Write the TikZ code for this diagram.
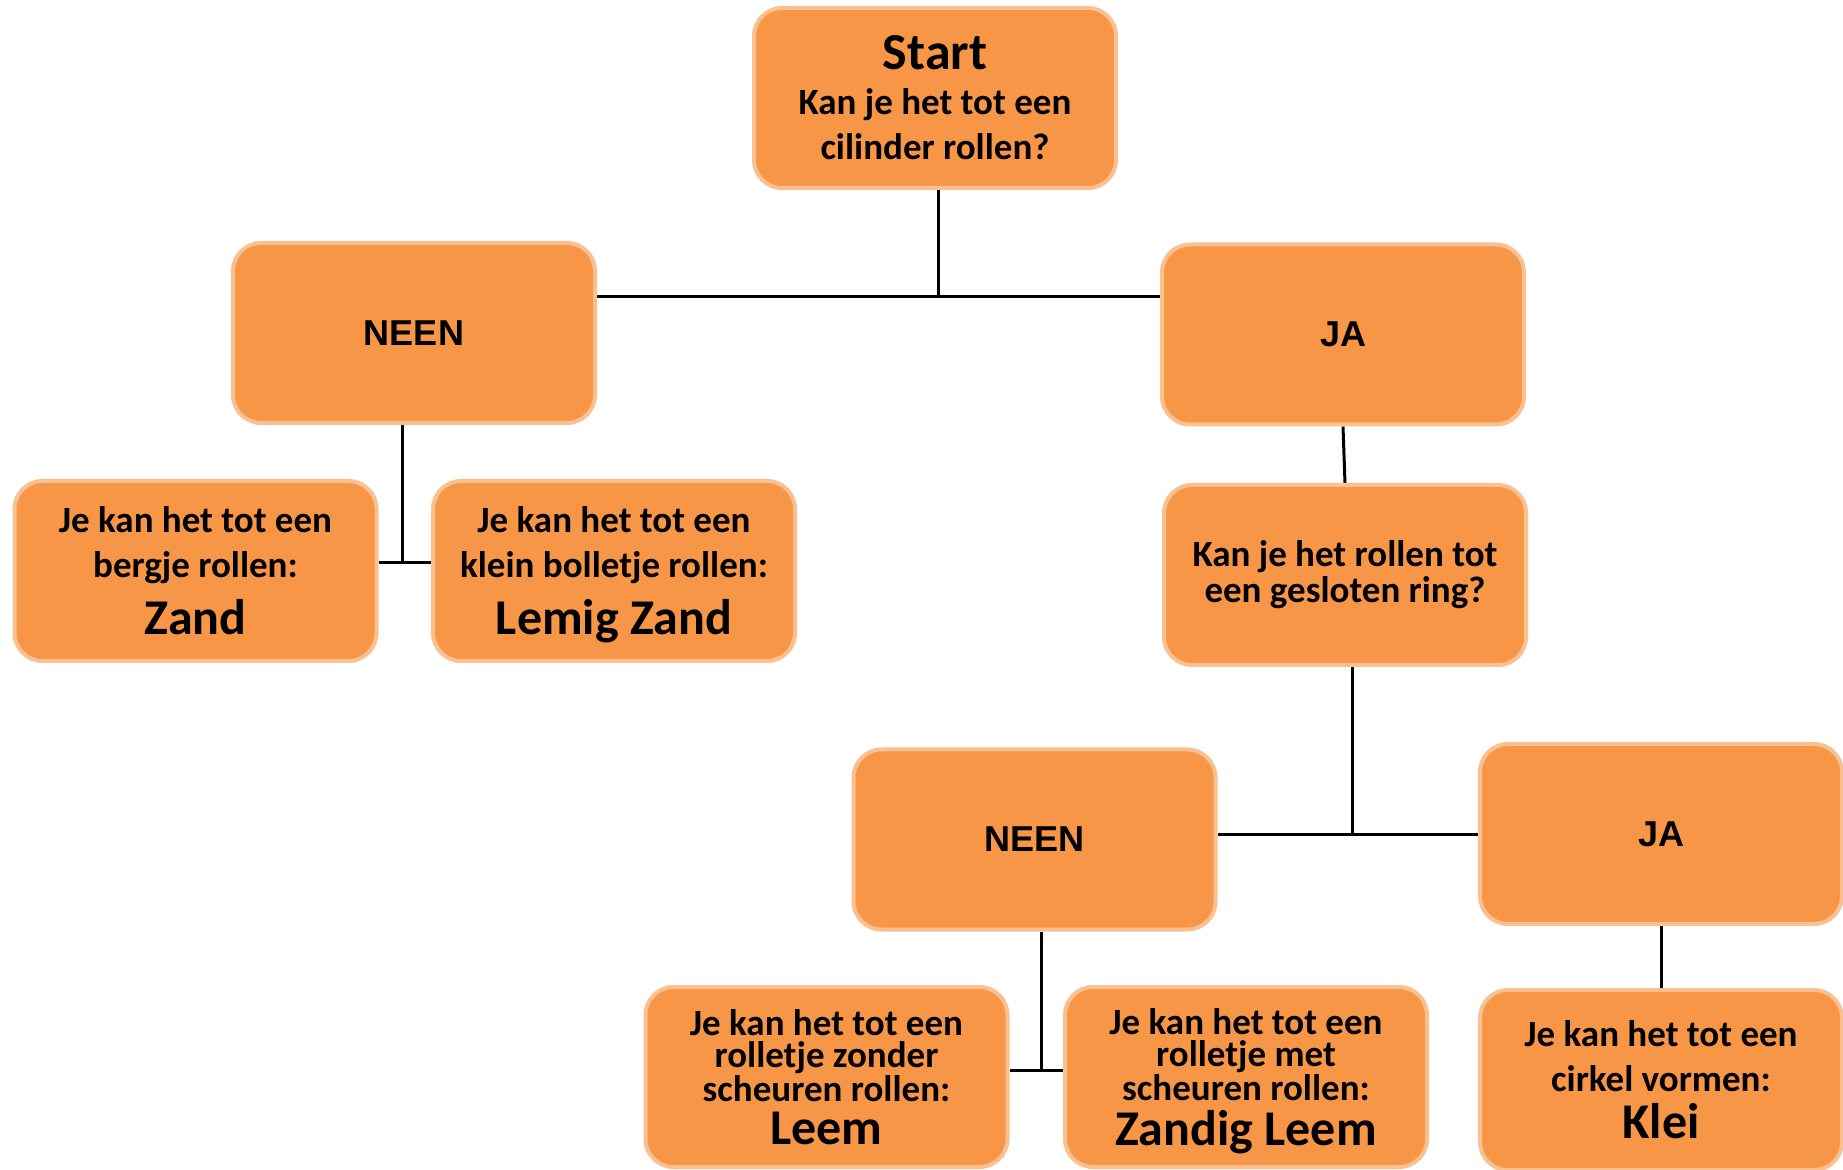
\documentclass[tikz,border=0pt]{standalone}
\usepackage{fontspec}
\setmainfont{Carlito}
\newfontfamily\arialfont{Liberation Sans}
\usetikzlibrary{positioning, calc, backgrounds}

\definecolor{boxfill}{HTML}{F79646}
\definecolor{boxedge}{HTML}{FAC090}

\begin{document}
\begin{tikzpicture}[
    x=0.5pt, y=-0.5pt,
    box/.style={draw=boxedge, line width=2pt, fill=boxfill, rounded corners=14pt,
        minimum width=181pt, minimum height=90pt, align=center, inner sep=2pt,
        font=\bfseries\fontsize{18.5}{22.5}\selectfont},
    answer/.style={box, font=\arialfont\bfseries\fontsize{18}{22}\selectfont},
    tight/.style={box, text depth=0pt, font=\bfseries\fontsize{18.5}{16}\selectfont},
    link/.style={line width=1.5pt, black}
]
\useasboundingbox (0,0) rectangle (1843,1170);

% === QUESTION 1 ===
\node[box] (start) at (935,98) {{\fontsize{26}{30}\selectfont Start}\\ Kan je het tot een\\ cilinder rollen?};

\node[answer] (neen1) at (414,333) {NEEN};
\node[answer] (ja1) at (1343,334.5) {JA};

% === NEEN branch ===
\node[box] (zand) at (195.5,571) {Je kan het tot een\\ bergje rollen:\\[6pt] {\fontsize{25}{28}\selectfont Zand}};
\node[box, text depth=0pt] (lemig) at (614,571) {Je kan het tot een\\ klein bolletje rollen:\\[6pt] {\fontsize{25}{28}\selectfont Lemig Zand}};

% === JA branch: question 2 ===
\node[box, font=\bfseries\fontsize{18.5}{18}\selectfont] (ring) at (1345,575) {Kan je het rollen tot\\ een gesloten ring?};

\node[answer] (neen2) at (1034.5,839.5) {NEEN};
\node[answer] (ja2) at (1661,834) {JA};

% === results ===
\node[tight] (leem) at (826.5,1077) {Je kan het tot een\\ rolletje zonder\\ scheuren rollen:\\[4pt] {\fontsize{25}{28}\selectfont Leem}};
\node[tight] (zandig) at (1246,1077) {Je kan het tot een\\ rolletje met\\ scheuren rollen:\\[4pt] {\fontsize{25}{28}\selectfont Zandig Leem}};
\node[box] (klei) at (1661,1080) {Je kan het tot een\\ cirkel vormen:\\[1pt] {\fontsize{25}{28}\selectfont Klei}};

% === connectors ===
\coordinate (jStart) at (938,297);
\coordinate (jNeen) at (402,563);
\coordinate (jRing) at (1352,834.5);
\coordinate (jNeenB) at (1041.5,1070);

\begin{scope}[on background layer]
    \draw[link] (start.south -| jStart) -- (jStart);
    \draw[link] (neen1.east |- jStart) -- (ja1.west |- jStart);

    \draw[link] (neen1.south -| jNeen) -- (jNeen);
    \draw[link] (zand.east |- jNeen) -- (lemig.west |- jNeen);

    \draw[link] (ja1.south) -- (ring.north);
    \draw[link] (ring.south -| jRing) -- (jRing);
    \draw[link] (neen2.east |- jRing) -- (ja2.west |- jRing);

    \draw[link] (neen2.south -| jNeenB) -- (jNeenB);
    \draw[link] (leem.east |- jNeenB) -- (zandig.west |- jNeenB);

    \draw[link] (ja2.south) -- (klei.north);
\end{scope}

\end{tikzpicture}
\end{document}
